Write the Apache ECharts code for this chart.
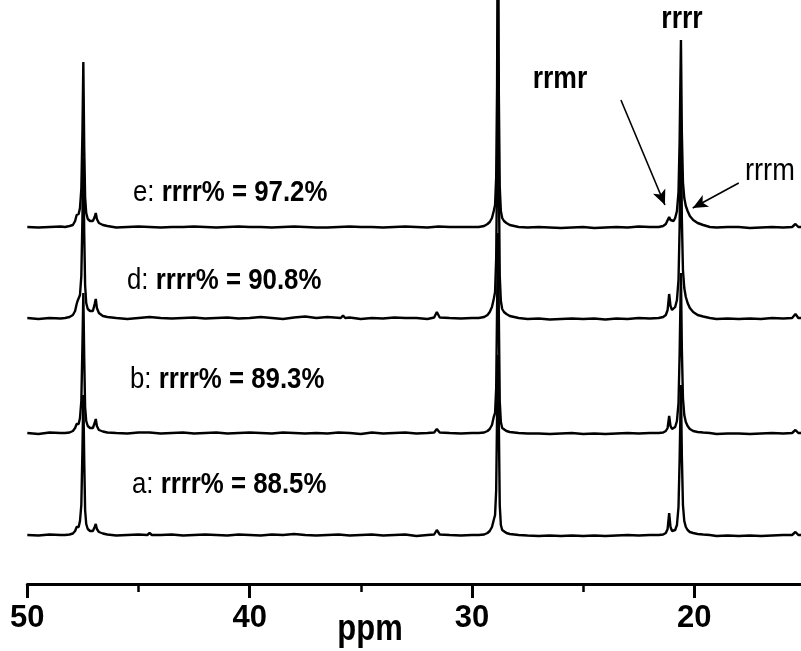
<!DOCTYPE html>
<html><head><meta charset="utf-8">
<script src="https://cdn.jsdelivr.net/npm/echarts@6/dist/echarts.min.js"></script>
<style>html,body{margin:0;padding:0;background:#fff}#c{width:801px;height:651px}</style>
</head><body><div id="c"></div><script>
const FONT = "'Liberation Sans', Arial, sans-serif";
const SX = 0.83; // narrow face emulation

// axis
const tickLabels = [50, 40, 30, 20];
const minorTicks = [45, 35, 25];
const axisName = 'ppm';

// samples (bottom to top)
const sampleNames = ['a', 'b', 'd', 'e'];
const sampleRrrr = ['88.5%', '89.3%', '90.8%', '97.2%'];
const baselineOffsets = [49, 151, 266, 357];

// baseline sampling positions (ppm) and noise read per spectrum
const gridPpm = [50,49.5,49,48.5,48,47.5,47,46.5,46,45.5,45,44.5,44,43.5,43,42.5,42,41.5,41,40.5,40,39.5,39,38.5,38,37.5,37,36.5,36,35.5,35,34.5,34,33.5,33,32.5,32,31.5,31,30.5,30,29.5,29,28.5,28,27.5,27,26.5,26,25.5,25,24.5,24,23.5,23,22.5,22,21.5,21,20.5,20,19.5,19,18.5,18,17.5,17,16.5,16,15.5,15];
const noiseA = [0,-0.5,0.5,0,0,0,0,0,-0.5,0,0.5,-0.5,0,0.5,-0.5,0,0.5,0,-0.5,0.5,0,-0.5,0.5,0,1,0,-0.5,0,0.5,-0.5,0,0.5,-0.5,0,0.5,-1,0,2,0,-0.5,0,0,0,0,0,-0.5,-1,-0.5,-1,-0.5,-1,-0.5,-1,-0.5,0,-0.5,0,0,0,0,0,0,-1,-0.5,-1,-0.5,-1,-0.5,0,1,0];
const noiseB = [0,-1,0.5,0,0,0,0,0,0,-0.5,0.5,0.5,-0.5,0,0.5,-0.5,0,0.5,-0.5,0,0.5,0,-0.5,0.5,0,-0.5,0,-0.5,0.5,0,-1,0.5,-0.5,0,0.5,-0.5,0,2,0,-0.5,0,0,0,0,0,-0.5,-0.5,-1,-0.5,0,-1,-0.5,-1,-0.5,0,-0.5,0,0,0,0,0,0,-1,-0.5,-0.5,-1,-0.5,0,-0.5,1,0];
const noiseD = [0,-1,0,-0.5,0.5,0,0,0,0,-1,0,1,0,-0.5,0,0.5,-0.5,0,0.5,-0.5,0,1,0,-1,0.5,1.5,0,1,-0.5,0.5,-1,0,-0.5,0.5,0,0,-1,3,0,-0.5,0,0,0,0,0,-1,-0.5,-1.5,-1,-0.5,-1,-0.5,-1.5,-0.5,-1,0,-0.5,0,0,0,0,0,-1,-0.5,-1,-0.5,-1,0,-0.5,1,0];
const noiseE = [0,-0.5,0,0.5,0,0,0,0,-0.5,0,0.5,0,-0.5,0,0,0.5,0,-0.5,0,0.5,0,0,-0.5,0,0.5,0,-0.5,-0.5,0,0.5,0,0,-0.5,0,0.5,0,-0.5,0.5,0,0,0,0,0,0,0,-0.5,0,-0.5,-1,-0.5,0,-1,-0.5,0,-0.5,0.5,0,0,0,0,0,0,-0.5,0,0,-1,-0.5,0,-0.5,1,0];

// CH2 region (~47.5 ppm), [ppm, height]
const ch2A = [[48.3,0],[48.1,0.5],[47.95,1.5],[47.85,4],[47.78,8],[47.74,9],[47.69,8],[47.63,14],[47.57,30],[47.52,85],[47.48,140],[47.44,75],[47.40,25],[47.35,11],[47.28,6],[47.18,4],[47.05,4],[46.97,8],[46.92,11],[46.87,6],[46.78,3],[46.6,1.5],[46.4,0.5]];
const ch2B = [[48.3,0],[48.1,0.5],[47.95,2],[47.85,5],[47.78,9],[47.74,10],[47.69,9],[47.63,15],[47.57,32],[47.52,88],[47.48,140],[47.44,75],[47.40,26],[47.35,12],[47.28,7],[47.18,5],[47.05,5],[46.97,10],[46.92,14],[46.87,7],[46.78,3],[46.6,1.5],[46.4,0.5]];
const ch2D = [[48.3,0],[48.1,1],[47.95,3],[47.85,7],[47.78,14],[47.74,17],[47.69,16],[47.63,23],[47.57,42],[47.52,100],[47.48,160],[47.44,85],[47.40,33],[47.35,15],[47.28,9],[47.18,7],[47.05,7],[46.97,14],[46.92,19],[46.87,10],[46.78,5],[46.6,2],[46.4,1]];
const ch2E = [[48.3,0],[48.1,1],[47.95,2],[47.85,6],[47.78,12],[47.74,14],[47.69,13],[47.63,19],[47.57,38],[47.52,95],[47.48,165],[47.44,80],[47.40,30],[47.35,14],[47.28,8],[47.18,6],[47.05,6],[46.97,10],[46.92,14],[46.87,8],[46.78,4],[46.6,2],[46.4,1]];

// CH region (~28.8 ppm)
const chA = [[29.7,0],[29.45,0.5],[29.3,2],[29.2,4],[29.1,8],[29.02,15],[28.96,20],[28.91,45],[28.87,120],[28.83,180],[28.79,110],[28.75,30],[28.7,10],[28.64,5],[28.56,3],[28.45,2],[28.3,1],[28.1,0.5],[27.9,0]];
const chB = [[29.7,0],[29.45,0.5],[29.3,2],[29.2,4],[29.1,8],[29.02,16],[28.96,20],[28.91,45],[28.87,125],[28.83,200],[28.79,115],[28.75,32],[28.7,11],[28.64,5],[28.56,3],[28.45,2],[28.3,1],[28.1,0.5],[27.9,0]];
const chD = [[29.7,0],[29.45,1],[29.3,3],[29.2,6],[29.1,11],[29.02,19],[28.96,26],[28.91,60],[28.87,150],[28.83,260],[28.79,140],[28.75,42],[28.7,17],[28.64,9],[28.56,6],[28.45,4],[28.3,2],[28.1,1],[27.9,0]];
const chE = [[29.7,0],[29.45,1],[29.3,3],[29.2,5],[29.1,9],[29.02,16],[28.96,22],[28.91,50],[28.87,140],[28.83,400],[28.79,130],[28.75,40],[28.7,16],[28.64,9],[28.56,6],[28.45,4],[28.3,2],[28.1,1],[27.9,0]];

// CH3 region: rrmr (~21.1 ppm), rrrr (~20.6 ppm), rrrm tail
const ch3A = [[21.6,0],[21.4,0.5],[21.28,2],[21.2,6],[21.13,22],[21.07,8],[21.0,4],[20.93,3],[20.86,5],[20.78,10],[20.71,28],[20.66,75],[20.6,150],[20.56,80],[20.51,30],[20.45,14],[20.38,8],[20.3,5],[20.2,3],[20.05,2],[19.85,1],[19.6,0.5],[19.3,0]];
const ch3B = [[21.6,0],[21.4,0.5],[21.28,2],[21.2,5],[21.13,17],[21.07,7],[21.0,4],[20.93,4],[20.86,6],[20.78,12],[20.71,30],[20.66,78],[20.6,160],[20.56,85],[20.51,35],[20.45,18],[20.38,11],[20.3,7],[20.2,4],[20.05,2],[19.85,1],[19.6,0.5],[19.3,0]];
const ch3D = [[21.6,0],[21.4,1],[21.28,3],[21.2,8],[21.13,24],[21.07,12],[21.0,8],[20.93,8],[20.86,11],[20.78,18],[20.71,38],[20.66,90],[20.6,200],[20.56,100],[20.51,48],[20.45,30],[20.38,21],[20.3,15],[20.2,10],[20.05,6],[19.85,3],[19.6,1.5],[19.3,0]];
const ch3E = [[21.6,0],[21.4,1],[21.28,3],[21.2,5],[21.13,10],[21.07,7],[21.0,5],[20.93,6],[20.86,9],[20.78,16],[20.71,35],[20.66,85],[20.6,187],[20.56,95],[20.51,45],[20.45,29],[20.38,21],[20.3,16],[20.2,11],[20.05,7],[19.85,4],[19.6,2],[19.3,0]];

// small extra bumps
const bumpsA = [[44.6,0],[44.5,2],[44.4,0],[31.7,0.5],[31.58,5],[31.45,0.5],[15.6,0],[15.45,3],[15.32,0]];
const bumpsB = [[31.7,0.5],[31.58,4],[31.45,0.5],[15.6,0],[15.45,3],[15.32,0]];
const bumpsD = [[35.9,0],[35.8,2.5],[35.7,0],[31.7,0.5],[31.58,6],[31.45,0.5],[15.6,0],[15.45,4],[15.32,0]];
const bumpsE = [[15.6,0],[15.45,3],[15.32,0]];

// annotations
const peakLabels = ['rrrr', 'rrmr', 'rrrm'];
const arrowRrmr = [[23.3, 484], [21.32, 379]];
const arrowRrrm = [[18.0, 401], [20.07, 376]];

const regions = [[48.3, 46.4], [29.7, 27.9], [21.6, 19.3]];
function build(noise, peaks, bumps, offset) {
  const pts = [];
  gridPpm.forEach((p, i) => {
    if (noise[i] === undefined) return;
    if (regions.some(r => p < r[0] && p > r[1])) return;
    if (bumps.some(b => Math.abs(b[0] - p) < 0.15)) return;
    pts.push([p, noise[i]]);
  });
  peaks.forEach(arr => arr.forEach(d => pts.push(d)));
  bumps.forEach(d => pts.push(d));
  pts.sort((a, b) => b[0] - a[0]);
  return pts.map(d => [d[0], d[1] + offset]);
}
const spectra = [
  build(noiseA, [ch2A, chA, ch3A], bumpsA, baselineOffsets[0]),
  build(noiseB, [ch2B, chB, ch3B], bumpsB, baselineOffsets[1]),
  build(noiseD, [ch2D, chD, ch3D], bumpsD, baselineOffsets[2]),
  build(noiseE, [ch2E, chE, ch3E], bumpsE, baselineOffsets[3])
];

const chart = echarts.init(document.getElementById('c'), null, {renderer: 'canvas'});
const series = spectra.map((d, i) => ({
  type: 'line', data: d, symbol: 'none', smooth: false, clip: true,
  xAxisIndex: 0, yAxisIndex: 0,
  lineStyle: {color: '#000', width: 2.4}, silent: true, animation: false,
  markLine: i === 3 ? {
    silent: true, symbol: ['none', 'arrow'], symbolSize: [10, 15], animation: false,
    lineStyle: {color: '#000', width: 1.6, type: 'solid'}, label: {show: false},
    data: [
      [{coord: arrowRrmr[0]}, {coord: arrowRrmr[1]}],
      [{coord: arrowRrrm[0]}, {coord: arrowRrrm[1]}]
    ]
  } : undefined
}));

const labelTops = [470, 365, 266, 178];
const labelLefts = [132, 130, 127, 133];
const graphics = sampleNames.map((n, i) => ({
  type: 'text', x: labelLefts[i], y: labelTops[i], scaleX: 0.86, silent: true,
  style: {
    text: '{l|' + n + ': }{b|rrrr% = ' + sampleRrrr[i] + '}',
    textAlign: 'left', textVerticalAlign: 'top', fill: '#000',
    rich: {
      l: {fontFamily: FONT, fontSize: 30, fontWeight: 'normal', fill: '#000'},
      b: {fontFamily: FONT, fontSize: 30, fontWeight: 'bold', fill: '#000'}
    }
  }
}));
graphics.push(
  {type: 'text', x: 682, y: 3, scaleX: SX, silent: true, style: {text: peakLabels[0], font: 'bold 32px ' + FONT, textAlign: 'center', textVerticalAlign: 'top', fill: '#000'}},
  {type: 'text', x: 560, y: 63, scaleX: SX, silent: true, style: {text: peakLabels[1], font: 'bold 32px ' + FONT, textAlign: 'center', textVerticalAlign: 'top', fill: '#000'}},
  {type: 'text', x: 745, y: 155, scaleX: 0.85, silent: true, style: {text: peakLabels[2], font: '32px ' + FONT, textAlign: 'left', textVerticalAlign: 'top', fill: '#000'}},
  {type: 'text', x: 370, y: 612, scaleX: 0.86, silent: true, style: {text: axisName, font: 'bold 36px ' + FONT, textAlign: 'center', textVerticalAlign: 'top', fill: '#000'}}
);

const xMin = 15.2, xMax = 50;
chart.setOption({
  animation: false,
  backgroundColor: '#fff',
  grid: {left: 27.3, right: 0, top: 0, bottom: 67, containLabel: false},
  xAxis: [{
    type: 'value', min: xMin, max: xMax, inverse: true, position: 'bottom',
    axisLine: {show: true, onZero: false, lineStyle: {color: '#000', width: 3}},
    axisTick: {show: true, inside: false, length: 14, customValues: tickLabels, lineStyle: {color: '#000', width: 3}},
    splitLine: {show: false},
    axisLabel: {
      show: true, margin: 19, color: '#000', fontFamily: FONT, fontSize: 31, fontWeight: 'bold',
      customValues: tickLabels, formatter: v => String(v)
    }
  }, {
    type: 'value', min: xMin, max: xMax, inverse: true, position: 'bottom', gridIndex: 0,
    axisLine: {show: false, onZero: false},
    axisTick: {show: true, inside: false, length: 8, customValues: minorTicks, lineStyle: {color: '#000', width: 2.5}},
    splitLine: {show: false},
    axisLabel: {show: false}
  }],
  yAxis: {type: 'value', min: 0, max: 584, show: false},
  series: series,
  graphic: graphics
});
</script></body></html>
